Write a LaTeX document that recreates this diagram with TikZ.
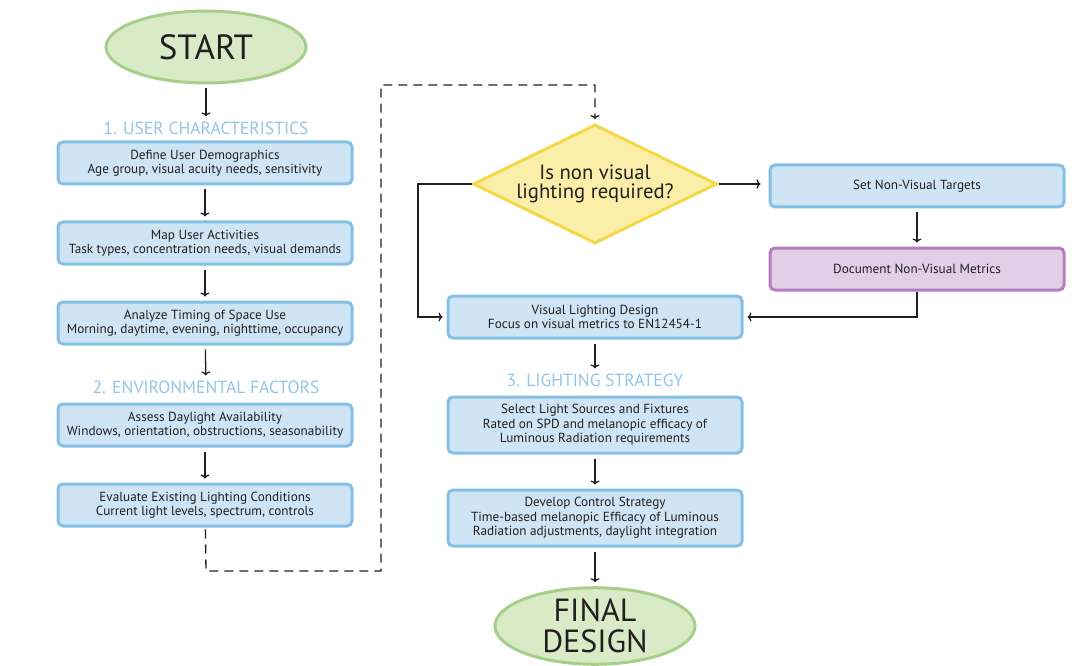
\documentclass[tikz,border=0pt]{standalone}
\usepackage{fontspec}
\setmainfont{PT Sans}
\usetikzlibrary{arrows.meta,shapes.geometric}

\definecolor{boxfill}{HTML}{CFE4F4}
\definecolor{boxline}{HTML}{86BFE6}
\definecolor{endfill}{HTML}{D8EAC6}
\definecolor{endline}{HTML}{A6CF8C}
\definecolor{askfill}{HTML}{FBEEA8}
\definecolor{askline}{HTML}{F3D84A}
\definecolor{docfill}{HTML}{E2CFE7}
\definecolor{docline}{HTML}{B37DBF}
\definecolor{hdrtext}{HTML}{93C6E6}
\definecolor{ink}{HTML}{231F20}

\tikzset{
  stepbox/.style={draw=boxline, fill=boxfill, line width=3pt, rounded corners=5pt,
    minimum width=294pt, minimum height=42pt, inner sep=0pt, align=center,
    text=ink, font=\fontsize{13.2}{14.5}\selectfont},
  docbox/.style={stepbox, draw=docline, fill=docfill},
  endpoint/.style={ellipse, draw=endline, fill=endfill, line width=3pt,
    minimum width=200pt, minimum height=72pt, inner sep=0pt, align=center,
    text=ink, font=\fontsize{35}{30}\selectfont},
  askbox/.style={diamond, draw=askline, fill=askfill, line width=3pt, aspect=2,
    minimum width=244pt, minimum height=119pt, inner sep=0pt, align=center,
    text=ink, font=\fontsize{20.7}{19}\selectfont},
  phase/.style={text=hdrtext, font=\fontsize{17.6}{18}\selectfont, inner sep=1pt},
  flow/.style={draw=ink, line width=1.3pt, -{To[length=4pt,width=9pt]},
    shorten <=4pt, shorten >=4pt},
  jump/.style={flow, dash pattern=on 9pt off 6pt},
}

\begin{document}
\begin{tikzpicture}[x=1pt,y=-1pt]
  \useasboundingbox (0,0) rectangle (1080,666);

  % Left column
  \node[endpoint] (start) at (206,47) {START};
  \node[phase] (hdrA) at (206,128) {1. USER CHARACTERISTICS};
  \node[stepbox] (dem) at (205,163) {Define User Demographics\\Age group, visual acuity needs, sensitivity};
  \node[stepbox] (act) at (205,243) {Map User Activities\\Task types, concentration needs, visual demands};
  \node[stepbox] (tim) at (205,323) {Analyze Timing of Space Use\\Morning, daytime, evening, nighttime, occupancy};
  \node[phase] (hdrB) at (206,387) {2. ENVIRONMENTAL FACTORS};
  \node[stepbox] (day) at (205,425) {Assess Daylight Availability\\Windows, orientation, obstructions, seasonability};
  \node[stepbox] (evl) at (205,505) {Evaluate Existing Lighting Conditions\\Current light levels, spectrum, controls};

  % Right part
  \node[askbox] (ask) at (595,184) {Is non visual\\lighting required?};
  \node[stepbox] (tgt) at (917,186) {Set Non-Visual Targets};
  \node[docbox] (doc) at (917,269) {Document Non-Visual Metrics};
  \node[stepbox] (vis) at (595,317) {Visual Lighting Design\\Focus on visual metrics to EN12454-1};
  \node[phase] (hdrC) at (595,380) {3. LIGHTING STRATEGY};
  \node[stepbox, minimum height=56pt] (src) at (595,425) {Select Light Sources and Fixtures\\Rated on SPD and melanopic efficacy of\\Luminous Radiation requirements};
  \node[stepbox, minimum height=56pt] (ctl) at (595,518) {Develop Control Strategy\\Time-based melanopic Efficacy of Luminous\\Radiation adjustments, daylight integration};
  \node[endpoint, minimum height=73pt, font=\fontsize{32}{31}\selectfont] (fin) at (595,626) {FINAL\\DESIGN};

  % Corners of the bent connectors
  \coordinate (jA) at (206,571);
  \coordinate (jB) at (381,571);
  \coordinate (jC) at (381,85);
  \coordinate (jD) at (595,85);
  \coordinate (nA) at (418,184);
  \coordinate (nB) at (418,317);

  % Arrows
  \draw[flow] (start) -- (hdrA);
  \draw[flow] (dem) -- (act);
  \draw[flow] (act) -- (tim);
  \draw[flow] (tim) -- (hdrB);
  \draw[flow] (day) -- (evl);
  \draw[jump, shorten <=2pt] (evl) -- (jA) -- (jB) -- (jC) -- (jD) -- (ask);
  \draw[flow, shorten <=0pt] (ask.west) -- (nA) -- (nB) -- (vis.west);
  \draw[flow, shorten <=0pt, shorten >=8pt] (ask.east) -- (ask.east -| tgt.west);
  \draw[flow] (tgt) -- (doc);
  \draw[flow, shorten <=0pt] (doc.south) -- (doc.south |- vis.east) -- (vis.east);
  \draw[flow] (vis) -- (hdrC);
  \draw[flow] (src) -- (ctl);
  \draw[flow] (ctl) -- (fin);
\end{tikzpicture}
\end{document}
